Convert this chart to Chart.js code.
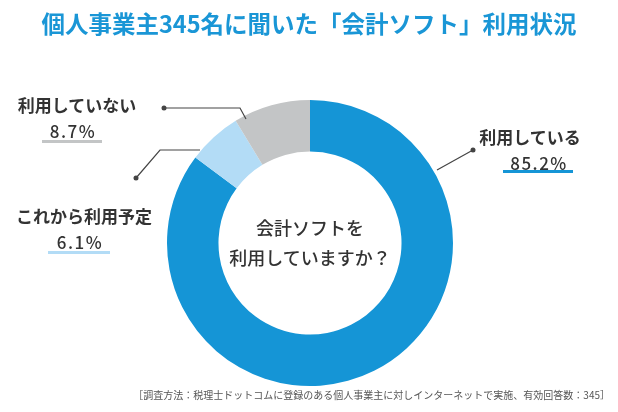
<!DOCTYPE html>
<html><head><meta charset="utf-8">
<script src="https://cdn.jsdelivr.net/npm/chart.js@4"></script>
<style>
body{margin:0;width:618px;height:412px;background:#fff;font-family:"Noto Sans CJK JP","Noto Sans",sans-serif;position:relative;overflow:hidden}
canvas{position:absolute;left:0;top:0}
.t{position:absolute;white-space:nowrap;color:#333;font-weight:bold}
.c{transform:translateX(-50%);text-align:center}
.p{letter-spacing:1.5px;font-weight:500}
.u{position:absolute;height:3px}
</style></head><body>
<canvas id="c" width="618" height="412"></canvas>
<div class="t c" style="left:309px;top:6px;font-size:23.5px;color:#1a96d6;">個人事業主345名に聞いた「会計ソフト」利用状況</div>
<div class="t c" style="left:530px;top:124px;font-size:17px;">利用している</div>
<div class="t c p" style="left:539px;top:150px;font-size:17px;">85.2%</div>
<div class="u" style="left:503px;top:170px;width:70px;background:#1595d6"></div>
<div class="t c" style="left:77px;top:92px;font-size:17px;">利用していない</div>
<div class="t c p" style="left:73px;top:118px;font-size:17px;">8.7%</div>
<div class="u" style="left:42px;top:140px;width:60px;background:#c3c5c6"></div>
<div class="t c" style="left:84px;top:203px;font-size:17px;">これから利用予定</div>
<div class="t c p" style="left:80px;top:229px;font-size:17px;">6.1%</div>
<div class="u" style="left:48px;top:251px;width:62px;background:#b3dcf6"></div>
<div class="t c" style="left:310px;top:214px;font-size:18px;font-weight:500;">会計ソフトを</div>
<div class="t c" style="left:310px;top:244px;font-size:18px;font-weight:500;">利用していますか？</div>
<div class="t" style="right:8px;top:387px;font-size:10px;color:#555;font-weight:normal;">［調査方法：税理士ドットコムに登録のある個人事業主に対しインターネットで実施、有効回答数：345］</div>
<script>
const categories=["利用している","これから利用予定","利用していない"];
const values=[85.2,6.1,8.7];
const colors=["#1595d6","#b3dcf6","#c3c5c6"];
const leaders={id:'leaders',afterDraw(ch){const x=ch.ctx;x.save();x.strokeStyle='#444';x.fillStyle='#444';x.lineWidth=1.2;
const L=[[[473,150],[437,170]],[[164,108],[240,108],[246,119]],[[136,178],[160,150],[200,150]]];
L.forEach(p=>{x.beginPath();x.moveTo(p[0][0],p[0][1]);p.slice(1).forEach(q=>x.lineTo(q[0],q[1]));x.stroke();x.beginPath();x.arc(p[0][0],p[0][1],2.5,0,Math.PI*2);x.fill();});x.restore();}};
new Chart(document.getElementById('c'),{type:'doughnut',
data:{labels:categories,datasets:[{data:values,backgroundColor:colors,borderWidth:0}]},
options:{responsive:false,animation:false,cutout:'64%',layout:{padding:{left:167,right:165,top:100,bottom:26}},
plugins:{legend:{display:false},tooltip:{enabled:false}}},plugins:[leaders]});
</script></body></html>
